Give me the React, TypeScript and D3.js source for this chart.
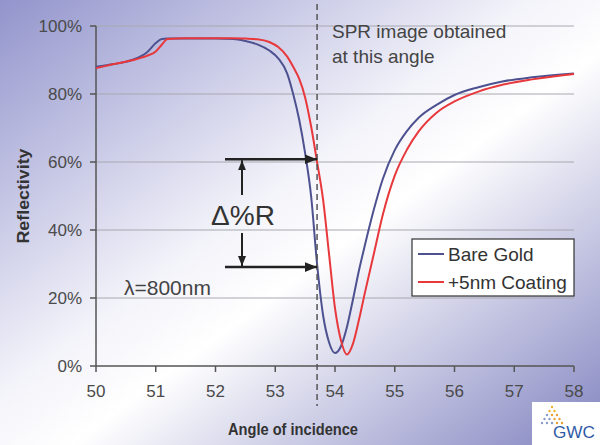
import React from 'react';
import * as d3 from 'd3';

// angle of incidence (deg) and reflectivity (%)
const angles = [50, 50.3, 50.6, 50.85, 51.0, 51.1, 51.2, 51.5, 52.0, 52.3, 52.5, 52.7, 52.9, 53.05, 53.2, 53.3, 53.4, 53.5, 53.6, 53.7, 53.8, 53.9, 54.0, 54.1, 54.2, 54.3, 54.4, 54.5, 54.65, 54.8, 55.0, 55.2, 55.4, 55.7, 56.0, 56.4, 56.8, 57.3, 58];
const bareGold = [88.0, 88.8, 90.0, 92.2, 95.0, 96.2, 96.3, 96.3, 96.3, 96.2, 95.6, 94.6, 92.8, 90.5, 86, 80, 72.5, 62.6, 50, 30, 15, 7, 3.8, 5.8, 11.5, 19.5, 28, 35.5, 46, 55, 63.5, 69, 73, 76.8, 79.7, 82, 83.7, 84.9, 86];
const coating = [87.6, 88.8, 89.9, 91.2, 92.5, 94.5, 96.2, 96.4, 96.4, 96.4, 96.3, 96.1, 95.3, 93.8, 91, 88, 84.5, 79, 70.5, 60, 49, 33, 17, 7.5, 3.4, 6.5, 13.5, 21.5, 33, 44.5, 56, 63.5, 69, 74.5, 77.8, 80.7, 82.7, 84.3, 85.9];

const seriesNames = ['Bare Gold', '+5nm Coating'];
const seriesColors = ['#4d5190', '#e8383c'];
const xTicks = [50, 51, 52, 53, 54, 55, 56, 57, 58];
const yTicks = [0, 20, 40, 60, 80, 100];

const spotAngle = 53.7;
const deltaLevels = [60.8, 29.1];

const W = 600;
const H = 445;
const m = { left: 96, right: 26, top: 26, bottom: 79 };

const App = () => {
  const x = d3.scaleLinear().domain([50, 58]).range([m.left, W - m.right]);
  const y = d3.scaleLinear().domain([0, 100]).range([H - m.bottom, m.top]);

  const line = d3.line<[number, number]>()
    .x((d) => x(d[0]))
    .y((d) => y(d[1]))
    .curve(d3.curveMonotoneX);

  const series = [bareGold, coating].map((vals) => angles.map((a, i) => [a, vals[i]] as [number, number]));

  const xs = x(spotAngle);
  const arrowX0 = 225;
  const midX = 242;
  const font = 'Arial, "Liberation Sans", sans-serif';

  // little logo dots
  const logoDots: { cx: number; cy: number; c: string }[] = [];
  for (let r = 0; r < 5; r++) {
    for (let c = 0; c <= r; c++) {
      logoDots.push({ cx: 552 - r * 2.5 + c * 5, cy: 407 + r * 4, c: r < 2 ? '#f0b428' : c > r - 2 ? '#e8a030' : '#8a9ac8' });
    }
  }

  return (
    <svg width={W} height={H} style={{ position: 'absolute', left: 0, top: 0 }} fontFamily={font}>
      <defs>
        <linearGradient id="bg" x1="0" y1="0" x2="1" y2="1">
          <stop offset="0" stopColor="#9294cc" />
          <stop offset="0.44" stopColor="#f3f3fa" />
          <stop offset="0.56" stopColor="#ffffff" />
          <stop offset="1" stopColor="#8284c0" />
        </linearGradient>
        <marker id="ah" viewBox="0 0 10 10" refX="10" refY="5" markerWidth="5" markerHeight="5" orient="auto-start-reverse">
          <path d="M0,1 L10,5 L0,9 z" fill="#222" />
        </marker>
      </defs>
      <rect x={0} y={0} width={W} height={H} fill="url(#bg)" />

      {/* grid */}
      {yTicks.filter((t) => t > 0).map((t) => (
        <line key={t} x1={x(50)} x2={x(58)} y1={y(t)} y2={y(t)} stroke="#a8a8b0" strokeWidth={1} />
      ))}

      {/* axes */}
      <line x1={x(50)} x2={x(50)} y1={y(100)} y2={y(0)} stroke="#555" strokeWidth={1.5} />
      <line x1={x(50)} x2={x(58)} y1={y(0)} y2={y(0)} stroke="#555" strokeWidth={1.5} />
      {yTicks.map((t) => (
        <g key={t}>
          <line x1={x(50) - 6} x2={x(50)} y1={y(t)} y2={y(t)} stroke="#555" strokeWidth={1.5} />
          <text x={x(50) - 14} y={y(t) + 6} textAnchor="end" fontSize={17} fill="#4a4a4a">{t}%</text>
        </g>
      ))}
      {xTicks.map((t) => (
        <g key={t}>
          <line x1={x(t)} x2={x(t)} y1={y(0)} y2={y(0) + 6} stroke="#555" strokeWidth={1.5} />
          <text x={x(t)} y={397} textAnchor="middle" fontSize={17} fill="#4a4a4a">{t}</text>
        </g>
      ))}
      <text x={293} y={435} textAnchor="middle" fontSize={16} fontWeight="bold" fill="#333" textLength={130} lengthAdjust="spacingAndGlyphs">Angle of incidence</text>
      <text transform="translate(29,196) rotate(-90)" textAnchor="middle" fontSize={16} fontWeight="bold" fill="#333" textLength={95} lengthAdjust="spacingAndGlyphs">Reflectivity</text>

      {/* curves */}
      {series.map((s, i) => (
        <path key={i} d={line(s) || ''} fill="none" stroke={seriesColors[i]} strokeWidth={2} />
      ))}

      {/* spr angle marker */}
      <line x1={xs} x2={xs} y1={4} y2={406} stroke="#555" strokeWidth={1.5} strokeDasharray="6,4" />
      <text x={332} y={38} fontSize={19} fill="#444">SPR image obtained</text>
      <text x={332} y={63} fontSize={19} fill="#444">at this angle</text>

      {/* delta %R arrows */}
      {deltaLevels.map((lv) => (
        <line key={lv} x1={arrowX0} x2={xs} y1={y(lv)} y2={y(lv)} stroke="#222" strokeWidth={2.5} markerEnd="url(#ah)" />
      ))}
      <line x1={midX} x2={midX} y1={195} y2={y(deltaLevels[0]) + 1} stroke="#222" strokeWidth={2} markerEnd="url(#ah)" />
      <line x1={midX} x2={midX} y1={233} y2={y(deltaLevels[1]) - 1} stroke="#222" strokeWidth={2} markerEnd="url(#ah)" />
      <text x={243} y={225} textAnchor="middle" fontSize={28} fill="#333">Δ%R</text>
      <text x={124} y={295} fontSize={21} fill="#444">λ=800nm</text>

      {/* legend */}
      <rect x={412} y={239} width={162} height={57} fill="#fff" stroke="#333" strokeWidth={1.2} />
      {seriesNames.map((n, i) => (
        <g key={n}>
          <line x1={418} x2={444} y1={254 + i * 28} y2={254 + i * 28} stroke={seriesColors[i]} strokeWidth={2} />
          <text x={448} y={261 + i * 28} fontSize={19} fill="#333">{n}</text>
        </g>
      ))}

      {/* logo */}
      <rect x={532} y={402} width={68} height={43} fill="#fff" />
      {logoDots.map((d, i) => (
        <circle key={i} cx={d.cx} cy={d.cy} r={1.2} fill={d.c} />
      ))}
      <text x={553} y={438} fontSize={17} fill="#2f5aa8" textLength={42} lengthAdjust="spacingAndGlyphs">GWC</text>
    </svg>
  );
};

export default App;
